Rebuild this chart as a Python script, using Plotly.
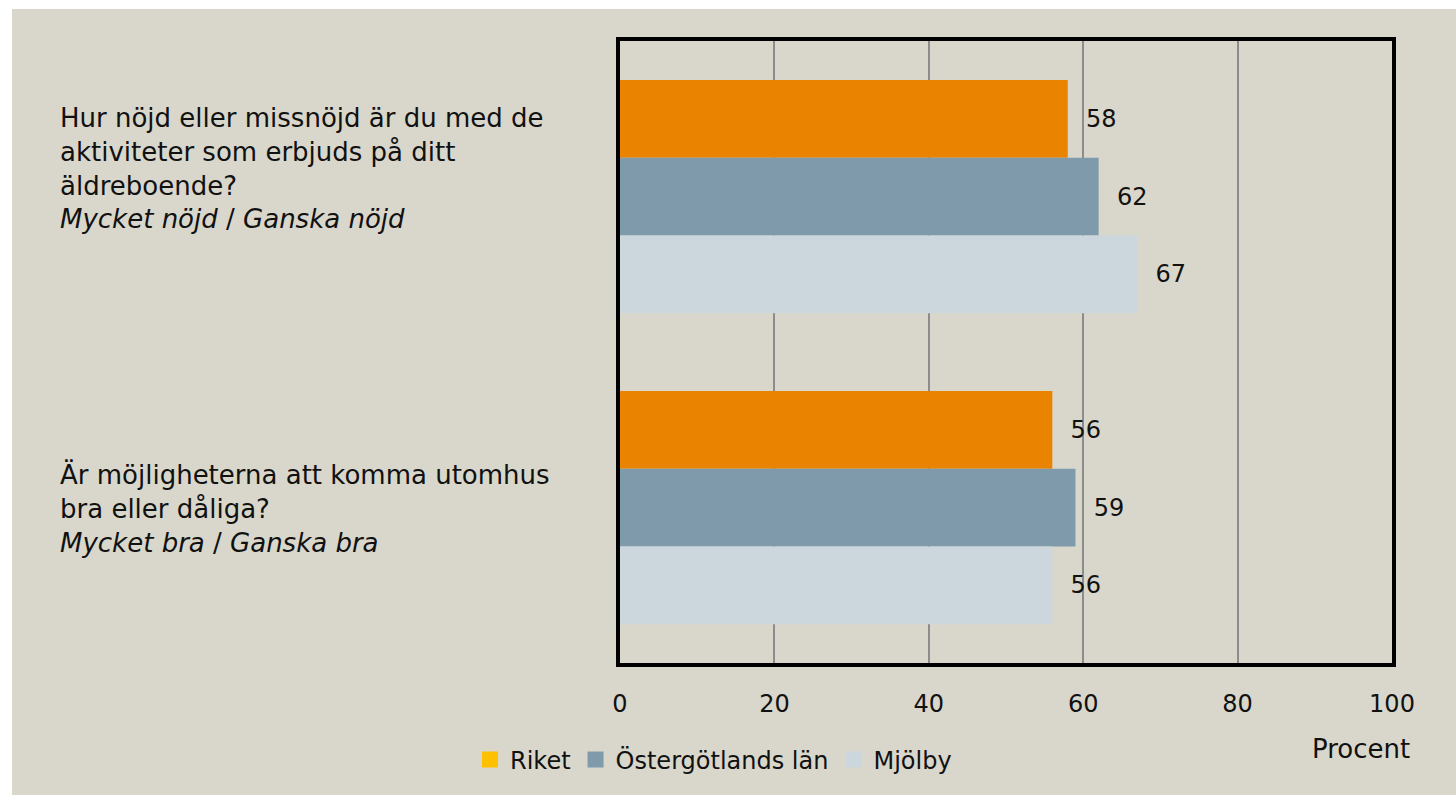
import plotly.graph_objects as go

questions = [
    "Hur nöjd eller missnöjd är du med de<br>aktiviteter som erbjuds på ditt<br>äldreboende?<br><i>Mycket nöjd</i> / <i>Ganska nöjd</i>",
    "Är möjligheterna att komma utomhus<br>bra eller dåliga?<br><i>Mycket bra</i> / <i>Ganska bra</i>",
]
categories = ["q1", "q2"]
series_names = ["Riket", "Östergötlands län", "Mjölby"]
riket = [58, 56]
ostergotland = [62, 59]
mjolby = [67, 56]
bar_colors = ["#E98300", "#7F9BAB", "#CCD7DD"]
legend_colors = ["#FFC000", "#7F9BAB", "#CCD7DD"]
x_ticks = [0, 20, 40, 60, 80, 100]

FONT = "DejaVu Sans"
W, H = 1456, 795
L, R, T, B = 620, 1392, 41, 663

def px(x):
    return (x - L) / (R - L)

def py(y):
    return (B - y) / (B - T)

fig = go.Figure()
for name, vals, col in zip(series_names, [riket, ostergotland, mjolby], bar_colors):
    fig.add_trace(go.Bar(
        y=categories, x=vals, orientation="h", name=name,
        marker=dict(color=col, line=dict(width=0)),
        text=vals, texttemplate="\u00a0\u00a0%{x}", textposition="outside",
        textfont=dict(family=FONT, size=24, color="#111"),
        cliponaxis=False, showlegend=False,
    ))
for name, col in zip(series_names, legend_colors):
    fig.add_trace(go.Scatter(
        x=[None], y=[None], mode="markers", name=name,
        marker=dict(symbol="square", size=16, color=col),
    ))

# question labels
label_tops = [101, 457]
for q, top in zip(questions, label_tops):
    fig.add_annotation(
        x=px(58), y=py(top), xref="paper", yref="paper",
        xanchor="left", yanchor="top", align="left", showarrow=False,
        text=q, font=dict(family=FONT, size=26, color="#111"),
    )

fig.add_annotation(
    x=px(1412), y=py(749), xref="paper", yref="paper",
    xanchor="right", yanchor="middle", showarrow=False,
    text="Procent", font=dict(family=FONT, size=26, color="#111"),
)

# beige background leaving a thin white border at top/left
fig.add_shape(type="rect", xref="paper", yref="paper", layer="below",
              x0=px(12), x1=px(W + 5), y0=py(H + 5), y1=py(9),
              fillcolor="#D9D7CB", line=dict(width=0))

fig.update_layout(
    width=W, height=H,
    margin=dict(l=L, r=W - R, t=T, b=H - B),
    paper_bgcolor="white", plot_bgcolor="white",
    barmode="group", bargap=0.25, bargroupgap=0,
    font=dict(family=FONT, size=24, color="#111"),
    legend=dict(orientation="h", x=px(470), y=py(760), xanchor="left", yanchor="middle",
                font=dict(family=FONT, size=24, color="#111"),
                bgcolor="rgba(0,0,0,0)", itemwidth=30, traceorder="normal"),
    xaxis=dict(range=[0, 100], tickvals=x_ticks, showgrid=True, gridcolor="#8C8C8C", gridwidth=1.5,
               zeroline=False, showline=True, linecolor="black", linewidth=4, mirror=True,
               ticks="outside", ticklen=16, tickcolor="rgba(0,0,0,0)",
               tickfont=dict(family=FONT, size=24, color="#111")),
    yaxis=dict(autorange="reversed", showticklabels=False, showgrid=False, zeroline=False,
               showline=True, linecolor="black", linewidth=4, mirror=True, ticks=""),
)

fig.write_html("out.html", config={"displayModeBar": False},
               post_script="document.body.style.margin='0';document.body.style.overflow='hidden';")
